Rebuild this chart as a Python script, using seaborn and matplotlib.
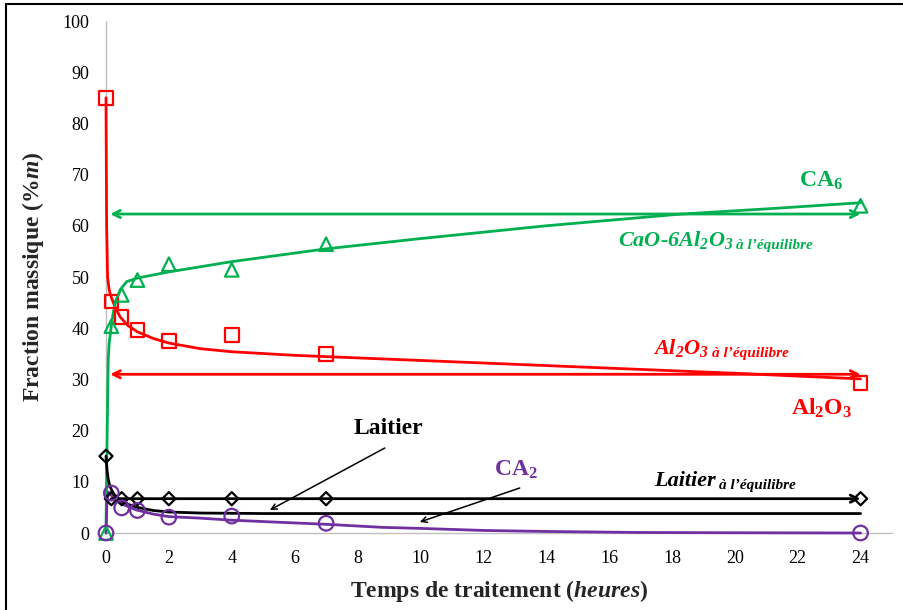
import numpy as np
import pandas as pd
import matplotlib
matplotlib.use("Agg")
import matplotlib.pyplot as plt
from matplotlib.lines import Line2D
import seaborn as sns

# Mesures (points)
t_mes = [0, 0.17, 0.5, 1, 2, 4, 7, 24]
al2o3_mes = [85, 45.2, 42.2, 39.6, 37.5, 38.7, 35.0, 29.3]
ca6_mes = [0, 40.4, 46.5, 49.4, 52.5, 51.4, 56.4, 63.9]
laitier_mes = [15, 6.7, 6.7, 6.7, 6.7, 6.7, 6.7, 6.7]
ca2_mes = [0, 7.8, 4.9, 4.4, 3.1, 3.3, 1.9, 0]

# Courbes d'ajustement
t_al2o3_fit = [0, 0.02, 0.05, 0.1, 0.17, 0.3, 0.45, 0.7, 1, 1.5, 2, 3, 4, 6, 8, 12, 16, 20, 24]
al2o3_fit = [85, 60, 50, 47.5, 46, 44, 42.2, 40.5, 39.3, 38.0, 37.1, 36.0, 35.4, 34.7, 34.2, 33.2, 32.2, 31.2, 30.1]

t_ca6_fit = [0, 0.02, 0.05, 0.07, 0.1, 0.17, 0.23, 0.3, 0.45, 0.66, 1, 2, 4, 7, 10, 14, 18.3, 21, 24]
ca6_fit = [0, 12, 25, 33.8, 37, 40.5, 43, 45, 47.5, 49.1, 49.8, 51, 53, 55.5, 57.5, 60, 62.3, 63.3, 64.5]

t_lait_fit = [0, 0.03, 0.07, 0.13, 0.25, 0.45, 0.7, 1, 1.5, 2, 3, 5, 8, 24]
lait_fit = [15, 12.5, 10.5, 9.0, 7.6, 6.4, 5.6, 5.0, 4.4, 4.1, 3.9, 3.8, 3.8, 3.8]

t_ca2_fit = [0, 0.03, 0.08, 0.2, 0.45, 0.97, 1.5, 2, 3, 4, 5.5, 7, 8.8, 10, 12, 14, 17, 20, 24]
ca2_fit = [0, 6, 8.0, 7.2, 5.8, 4.5, 3.7, 3.2, 2.9, 2.5, 2.1, 1.7, 1.1, 0.9, 0.5, 0.3, 0.1, 0.05, 0]

# Valeurs à l'équilibre
eq_ca6 = 62.3
eq_al2o3 = 31.0
eq_laitier = 6.7

ROUGE = "#FF0000"
VERT = "#00B050"
VIOLET = "#7030A0"
NOIR = "#000000"

sns.set_style("white")
plt.rcParams["font.family"] = ["Liberation Serif", "DejaVu Serif"]
plt.rcParams["mathtext.fontset"] = "custom"
plt.rcParams["mathtext.rm"] = "Liberation Serif"
plt.rcParams["mathtext.it"] = "Liberation Serif:italic:bold"
plt.rcParams["mathtext.bf"] = "Liberation Serif:bold"
plt.rcParams["mathtext.default"] = "regular"

fig = plt.figure(figsize=(9.04, 6.10), dpi=100)
ax = fig.add_axes([106 / 904, 77 / 610, 786 / 904, 512 / 610])

# Courbes d'ajustement
courbe = dict(lw=2, ax=ax, sort=False, clip_on=False, zorder=3)
sns.lineplot(x=t_al2o3_fit, y=al2o3_fit, color=ROUGE, **courbe)
sns.lineplot(x=t_ca6_fit, y=ca6_fit, color=VERT, **courbe)
sns.lineplot(x=t_lait_fit, y=lait_fit, color=NOIR, **courbe)
sns.lineplot(x=t_ca2_fit, y=ca2_fit, color=VIOLET, **courbe)

# Flèches d'équilibre
fl = dict(lw=2, shrinkA=0, shrinkB=0, mutation_scale=13)
ax.annotate("", xy=(24, eq_ca6), xytext=(0.13, eq_ca6),
            arrowprops=dict(arrowstyle="<->", color=VERT, **fl))
ax.annotate("", xy=(24, eq_al2o3), xytext=(0.13, eq_al2o3),
            arrowprops=dict(arrowstyle="<->", color=ROUGE, **fl))
ax.annotate("", xy=(24, eq_laitier), xytext=(0.17, eq_laitier),
            arrowprops=dict(arrowstyle="->", color=NOIR, **fl))

# Points mesurés
pts = dict(facecolor="none", linewidth=1.6, clip_on=False, zorder=5, ax=ax, legend=False)
sns.scatterplot(x=t_mes, y=al2o3_mes, marker="s", s=95, edgecolor=ROUGE, color=ROUGE, **pts)
sns.scatterplot(x=t_mes, y=ca6_mes, marker="^", s=95, edgecolor=VERT, color=VERT, **pts)
sns.scatterplot(x=t_mes, y=laitier_mes, marker="D", s=45, edgecolor=NOIR, color=NOIR, **pts)
sns.scatterplot(x=t_mes, y=ca2_mes, marker="o", s=110, edgecolor=VIOLET, color=VIOLET, **pts)

# Axes
ax.set_xlim(0, 25)
ax.set_ylim(0, 100)
ax.set_xticks(np.arange(0, 25, 2))
ax.set_yticks(np.arange(0, 101, 10))
for s in ["top", "right"]:
    ax.spines[s].set_visible(False)
for s in ["left", "bottom"]:
    ax.spines[s].set_color("#BFBFBF")
    ax.spines[s].set_linewidth(1)
    ax.spines[s].set_zorder(1)
ax.tick_params(axis="both", direction="out", length=5, width=1, color="#BFBFBF",
               labelsize=13, labelcolor="black", pad=7)

ax.set_xlabel(r"Temps de traitement ($\mathit{heures}$)", fontsize=17, fontweight="bold", labelpad=8)
ax.set_ylabel(r"Fraction massique (%$\mathit{m}$)", fontsize=17, fontweight="bold", labelpad=12)

# Étiquettes
def px(x, y):
    return ((x - 106) / 31.46, (533 - y) / 5.12)

ax.text(*px(822, 181), r"CA$_6$", color=VERT, fontsize=17, fontweight="bold", ha="center", va="center")
ax.text(*px(822, 408), r"Al$_2$O$_3$", color=ROUGE, fontsize=17, fontweight="bold", ha="center", va="center")
ax.text(*px(389, 428), "Laitier", color=NOIR, fontsize=17, fontweight="bold", ha="center", va="center")
ax.text(*px(516, 470), r"CA$_2$", color=VIOLET, fontsize=17, fontweight="bold", ha="center", va="center")


def label_eq(xy, main, color):
    t = ax.text(*xy, main, color=color, fontsize=16, fontweight="bold", style="italic",
                ha="left", va="center")
    ax.annotate("à l\u2019équilibre", xy=(1, 0), xycoords=t, xytext=(2, -1),
                textcoords="offset points", color=color, fontsize=11, fontweight="bold",
                style="italic", ha="left", va="bottom")


label_eq(px(618, 240), r"CaO-6Al$_2$O$_3$", VERT)
label_eq(px(653, 348), r"Al$_2$O$_3$", ROUGE)
label_eq(px(655, 481), "Laitier", NOIR)

# Flèches des étiquettes
ax.annotate("", xy=px(270, 510), xytext=px(385, 448),
            arrowprops=dict(arrowstyle="->", color=NOIR, lw=1.1, shrinkA=0, shrinkB=0))
ax.annotate("", xy=px(420, 522), xytext=px(520, 488),
            arrowprops=dict(arrowstyle="->", color=NOIR, lw=1.1, shrinkA=0, shrinkB=0))

# Cadre
fig.add_artist(Line2D([6 / 904, 6 / 904], [0, 1 - 4 / 610], color="black", lw=1.5))
fig.add_artist(Line2D([6 / 904, 1], [1 - 4 / 610, 1 - 4 / 610], color="black", lw=1.5))

fig.savefig("out.png", dpi=100)
